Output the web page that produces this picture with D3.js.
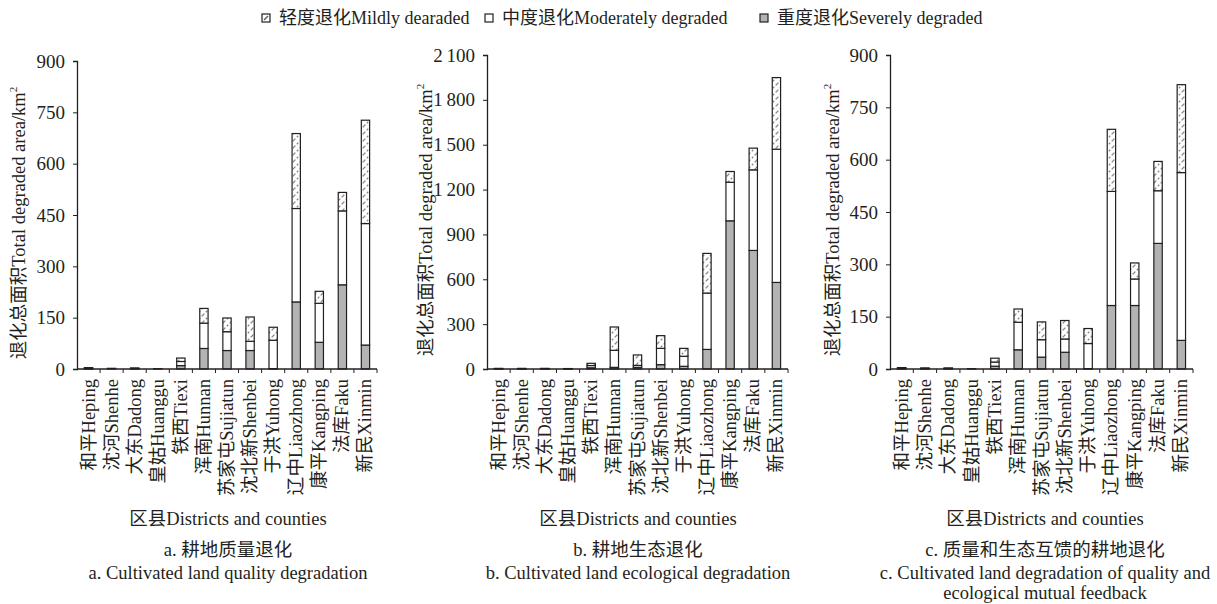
<!DOCTYPE html>
<html>
<head>
<meta charset="utf-8">
<script src="https://cdn.jsdelivr.net/npm/d3@7"></script>
<style>
  body { margin: 0; background: #fff; }
  svg text { font-family: "Liberation Serif", "Times New Roman", "Noto Sans CJK SC", serif; fill: #231f20; }
</style>
</head>
<body>
<div class="graph"></div>
<script>
var width = 1217,
    height = 604;

// districts, left to right
var districts = ["和平Heping", "沈河Shenhe", "大东Dadong", "皇姑Huanggu", "铁西Tiexi", "浑南Hunnan",
  "苏家屯Sujiatun", "沈北新Shenbei", "于洪Yuhong", "辽中Liaozhong", "康平Kangping", "法库Faku", "新民Xinmin"];

// a. quality degradation (km2)
var qualitySevere   = [1, 0, 1, 0, 10, 60, 54, 54, 1, 196, 78, 246, 70];
var qualityModerate = [2, 2, 1, 1, 12, 74, 55, 27, 83, 273, 114, 216, 355];
var qualityMild     = [1, 0, 1, 0, 10, 43, 40, 71, 38, 219, 35, 54, 302];

// b. ecological degradation
var ecoSevere   = [1, 1, 1, 1, 8, 11, 11, 29, 18, 131, 991, 793, 579];
var ecoModerate = [2, 2, 2, 1, 15, 114, 13, 109, 67, 377, 258, 539, 891];
var ecoMild     = [1, 1, 1, 1, 15, 156, 70, 85, 53, 265, 72, 145, 479];

// c. quality and ecological mutual feedback
var mutualSevere   = [1, 1, 1, 0, 8, 55, 34, 48, 1, 182, 182, 360, 82];
var mutualModerate = [2, 1, 1, 1, 12, 79, 50, 38, 72, 327, 76, 151, 481];
var mutualMild     = [1, 1, 1, 0, 11, 38, 51, 53, 43, 178, 46, 84, 252];

var legendLabels = ["轻度退化Mildly dearaded", "中度退化Moderately degraded", "重度退化Severely degraded"];
var keys = ["severe", "moderate", "mild"];

var yTitle = "退化总面积Total degraded area/km";
var xTitle = "区县Districts and counties";

var panels = [
  { left: 77, top: 61, w: 300, max: 900, step: 150, sev: qualitySevere, mod: qualityModerate, mild: qualityMild,
    titleX: 18, cx: 228, caption: ["a. 耕地质量退化", "a. Cultivated land quality degradation"] },
  { left: 487, top: 55, w: 301, max: 2100, step: 300, sev: ecoSevere, mod: ecoModerate, mild: ecoMild,
    titleX: 425, cx: 638, caption: ["b. 耕地生态退化", "b. Cultivated land ecological degradation"] },
  { left: 890, top: 55, w: 303, max: 900, step: 150, sev: mutualSevere, mod: mutualModerate, mild: mutualMild,
    titleX: 832, cx: 1045, caption: ["c. 质量和生态互馈的耕地退化", "c. Cultivated land degradation of quality and", "ecological mutual feedback"] }
];
var bottom = 369;
var capY = [556, 579, 599];

var svg = d3.select(".graph").append("svg")
    .attr("width", width)
    .attr("height", height);

// hatch pattern for mild degradation
var defs = svg.append("defs");
var pat = defs.append("pattern")
    .attr("id", "mild")
    .attr("patternUnits", "userSpaceOnUse")
    .attr("width", 7)
    .attr("height", 7);
pat.append("rect").attr("width", 7).attr("height", 7).attr("fill", "#fff");
pat.append("path")
    .attr("d", "M0,7 L7,0 M-1,1 L1,-1 M6,8 L8,6")
    .attr("stroke", "#8a8a8a")
    .attr("stroke-width", 1.3)
    .attr("stroke-dasharray", "2,2");

var fills = { severe: "#b3b3b3", moderate: "#fff", mild: "url(#mild)" };

var tickFmt = function(d) { return d3.format(",")(d).replace(",", "\u2009"); };

panels.forEach(function(p) {
  var rows = districts.map(function(d, i) {
    return { name: d, severe: p.sev[i], moderate: p.mod[i], mild: p.mild[i] };
  });
  var series = d3.stack().keys(keys)(rows);

  var x = d3.scaleBand()
      .domain(districts)
      .range([p.left, p.left + p.w])
      .paddingInner(0.64)
      .paddingOuter(0.32);
  var y = d3.scaleLinear()
      .domain([0, p.max])
      .range([bottom, p.top]);

  var g = svg.append("g");

  // bars
  g.selectAll("g.layer")
    .data(series)
    .enter().append("g")
      .attr("class", "layer")
      .attr("fill", function(s) { return fills[s.key]; })
    .selectAll("rect")
    .data(function(s) { return s; })
    .enter().append("rect")
      .attr("x", function(d) { return x(d.data.name); })
      .attr("y", function(d) { return y(d[1]); })
      .attr("width", x.bandwidth())
      .attr("height", function(d) { return Math.max(0, y(d[0]) - y(d[1])); })
      .attr("stroke", "#231f20")
      .attr("stroke-width", 1.2);

  // y axis
  var yAxis = d3.axisLeft(y)
      .tickValues(d3.range(0, p.max + 1, p.step))
      .tickSize(4)
      .tickPadding(8)
      .tickFormat(tickFmt);
  var ya = g.append("g")
      .attr("transform", "translate(" + p.left + ",0)")
      .call(yAxis);
  ya.select(".domain").attr("stroke", "#231f20").attr("stroke-width", 1.3);
  ya.selectAll(".tick line").attr("stroke", "#231f20");
  ya.selectAll(".tick text").attr("font-size", 19).style("font-family", "Liberation Serif");

  // x axis line with ticks at band edges
  g.append("line")
      .attr("x1", p.left).attr("x2", p.left + p.w)
      .attr("y1", bottom).attr("y2", bottom)
      .attr("stroke", "#231f20").attr("stroke-width", 1.3);
  var edges = d3.range(1, districts.length + 1).map(function(i) { return p.left + i * x.step(); });
  g.selectAll("line.xt")
    .data(edges)
    .enter().append("line")
      .attr("class", "xt")
      .attr("x1", function(d) { return d; }).attr("x2", function(d) { return d; })
      .attr("y1", bottom).attr("y2", bottom + 4)
      .attr("stroke", "#231f20");

  // category labels (rotated)
  g.selectAll("text.cat")
    .data(districts)
    .enter().append("text")
      .attr("class", "cat")
      .attr("transform", function(d) {
        return "translate(" + (x(d) + x.bandwidth() / 2 + 6) + "," + (bottom + 10) + ") rotate(-90)";
      })
      .attr("text-anchor", "end")
      .attr("font-size", 18.5)
      .text(function(d) { return d; });

  // y title
  var yt = g.append("text")
      .attr("transform", "translate(" + (p.titleX + 7) + "," + ((bottom + p.top) / 2 + 8) + ") rotate(-90)")
      .attr("text-anchor", "middle")
      .attr("font-size", 18.5);
  yt.append("tspan").text(yTitle);
  yt.append("tspan").attr("font-size", 11).attr("dy", -8).text("2");

  // x title and captions
  g.append("text")
      .attr("x", p.cx).attr("y", 525)
      .attr("text-anchor", "middle")
      .attr("font-size", 18.5)
      .text(xTitle);
  g.selectAll("text.cap")
    .data(p.caption)
    .enter().append("text")
      .attr("class", "cap")
      .attr("x", p.cx)
      .attr("y", function(d, i) { return capY[i]; })
      .attr("text-anchor", "middle")
      .attr("font-size", 18.5)
      .text(function(d) { return d; });
});

// legend
var legendX = [262, 485, 760];
var legendFill = ["#fff", "#fff", "#b3b3b3"];
var lg = svg.append("g");
legendLabels.forEach(function(t, i) {
  lg.append("rect")
      .attr("x", legendX[i]).attr("y", 14)
      .attr("width", 8).attr("height", 8)
      .attr("fill", legendFill[i])
      .attr("stroke", "#231f20").attr("stroke-width", 1.2);
  if (i === 0) {
    // little hatch mark in the mild swatch
    lg.append("line")
        .attr("x1", legendX[i] + 2).attr("y1", 20)
        .attr("x2", legendX[i] + 6).attr("y2", 16)
        .attr("stroke", "#555").attr("stroke-width", 1.2);
  }
  lg.append("text")
      .attr("x", legendX[i] + 17).attr("y", 24)
      .attr("font-size", 18)
      .text(t);
});
</script>
</body>
</html>
